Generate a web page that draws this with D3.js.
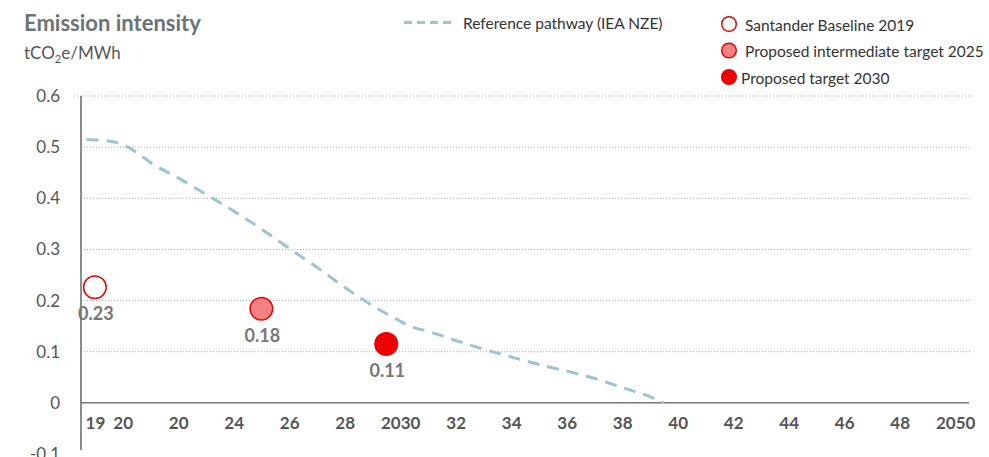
<!DOCTYPE html>
<html>
<head>
<meta charset="utf-8">
<script src="https://cdn.jsdelivr.net/npm/d3@7"></script>
<style>
  body { margin: 0; background: #fff; }
  text { font-family: Lato, "Open Sans", sans-serif; }
</style>
</head>
<body>
<svg id="chart" width="989" height="457"></svg>
<script>
// tick positions and the labels printed under them (the source prints "20" for 2022)
var yearTicks = [2019, 2020, 2022, 2024, 2026, 2028, 2030, 2032, 2034, 2036, 2038, 2040, 2042, 2044, 2046, 2048, 2050];
var yearTickLabels = ["19", "20", "20", "24", "26", "28", "2030", "32", "34", "36", "38", "40", "42", "44", "46", "48", "2050"];
var valueTicks = [-0.1, 0, 0.1, 0.2, 0.3, 0.4, 0.5, 0.6];
var gridValues = [0.1, 0.2, 0.3, 0.4, 0.5, 0.6];

// IEA NZE reference pathway
var pathwayYears  = [2018.7, 2019.5, 2020, 2020.5, 2021, 2022, 2023, 2024, 2025, 2026, 2027, 2028, 2029, 2030, 2030.3, 2031, 2032, 2033, 2034, 2035, 2036, 2037, 2038, 2039, 2039.5];
var pathwayValues = [0.515, 0.512, 0.505, 0.49, 0.47, 0.44, 0.408, 0.375, 0.34, 0.302, 0.265, 0.226, 0.19, 0.16, 0.151, 0.14, 0.122, 0.105, 0.09, 0.075, 0.062, 0.048, 0.03, 0.012, 0];

// Santander points
var targetNames  = ["Santander Baseline 2019", "Proposed intermediate target 2025", "Proposed target 2030"];
var targetYears  = [2019, 2025, 2029.5];
var targetValues = [0.226, 0.184, 0.115];
var targetLabels = ["0.23", "0.18", "0.11"];
var targetFills  = ["#ffffff", "#f48283", "#ec0000"];

var red = "#ec0000";
var pathBlue = "#9dc4d6";

var svg = d3.select("#chart");

var x = d3.scaleLinear().domain([2018.5, 2050.5]).range([81, 969]);
var y = d3.scaleLinear().domain([-0.1, 0.6]).range([454, 96]);

// titles
svg.append("text")
    .attr("x", 24).attr("y", 31)
    .attr("font-size", 22).attr("font-weight", 700)
    .attr("fill", "#6b7474")
    .text("Emission intensity");

var sub = svg.append("text")
    .attr("x", 24).attr("y", 59)
    .attr("font-size", 17)
    .attr("fill", "#555");
sub.append("tspan").text("tCO");
sub.append("tspan").attr("font-size", 11).attr("dy", 4).text("2");
sub.append("tspan").attr("dy", -4).text("e/MWh");

// gridlines
svg.append("g")
    .selectAll("line")
    .data(gridValues)
    .enter()
    .append("line")
    .attr("x1", function(d) { return d === 0.6 ? x.range()[0] - 7 : x.range()[0]; })
    .attr("x2", x.range()[1] + 3)
    .attr("y1", function(d) { return y(d); })
    .attr("y2", function(d) { return y(d); })
    .attr("stroke", "#aaa")
    .attr("stroke-width", 1)
    .attr("stroke-dasharray", "1,2");

// y axis
var yAxis = d3.axisLeft(y)
    .tickValues(valueTicks)
    .tickSize(0)
    .tickPadding(21)
    .tickFormat(function(d) { return String(d); });

var gy = svg.append("g")
    .attr("transform", "translate(" + x.range()[0] + ",0)")
    .call(yAxis);
gy.select(".domain").remove();
gy.selectAll("text")
    .attr("font-size", 17)
    .attr("fill", "#555")
    .style("font-family", "Lato, sans-serif");

svg.append("line")
    .attr("x1", x.range()[0]).attr("x2", x.range()[0])
    .attr("y1", y(0.6)).attr("y2", y(-0.1) - 4)
    .attr("stroke", "#666").attr("stroke-width", 1.5);

// zero line + x axis
svg.append("line")
    .attr("x1", x.range()[0]).attr("x2", x.range()[1])
    .attr("y1", y(0)).attr("y2", y(0))
    .attr("stroke", "#777").attr("stroke-width", 1.5);

var xAxis = d3.axisBottom(x)
    .tickValues(yearTicks)
    .tickSize(0)
    .tickPadding(14)
    .tickFormat(function(d, i) { return yearTickLabels[i]; });

var gx = svg.append("g")
    .attr("transform", "translate(0," + y(0) + ")")
    .call(xAxis);
gx.select(".domain").remove();
gx.selectAll("text")
    .attr("font-size", 17)
    .attr("font-weight", 700)
    .attr("fill", "#555")
    .style("font-family", "Lato, sans-serif");

// reference pathway
var valueline = d3.line()
    .x(function(d) { return x(d[0]); })
    .y(function(d) { return y(d[1]); })
    .curve(d3.curveMonotoneX);

svg.append("path")
    .attr("d", valueline(d3.zip(pathwayYears, pathwayValues)))
    .attr("fill", "none")
    .attr("stroke", pathBlue)
    .attr("stroke-width", 3)
    .attr("stroke-dasharray", "12,8");

// points + value labels
var points = svg.append("g")
    .selectAll("g")
    .data(targetYears)
    .enter()
    .append("g");

points.append("circle")
    .attr("cx", function(d) { return x(d); })
    .attr("cy", function(d, i) { return y(targetValues[i]); })
    .attr("r", 11.3)
    .attr("fill", function(d, i) { return targetFills[i]; })
    .attr("stroke", red)
    .attr("stroke-width", 1.5);

points.append("text")
    .attr("x", function(d) { return x(d) + 1; })
    .attr("y", function(d, i) { return y(targetValues[i]) + 33; })
    .attr("text-anchor", "middle")
    .attr("font-size", 18)
    .attr("font-weight", 700)
    .attr("fill", "#777")
    .text(function(d, i) { return targetLabels[i]; });

// legend
svg.append("line")
    .attr("x1", 404).attr("x2", 452)
    .attr("y1", 22.5).attr("y2", 22.5)
    .attr("stroke", pathBlue)
    .attr("stroke-width", 3)
    .attr("stroke-dasharray", "8,5");
svg.append("text")
    .attr("x", 463).attr("y", 29)
    .attr("font-size", 15.5)
    .attr("fill", "#333")
    .text("Reference pathway (IEA NZE)");

var legendY = [24, 50.5, 77];
var legendTextX = [745, 745, 741];
var leg = svg.append("g")
    .selectAll("g")
    .data(targetNames)
    .enter()
    .append("g");
leg.append("circle")
    .attr("cx", 729)
    .attr("cy", function(d, i) { return legendY[i]; })
    .attr("r", 7.3)
    .attr("fill", function(d, i) { return targetFills[i]; })
    .attr("stroke", red)
    .attr("stroke-width", 1.5);
leg.append("text")
    .attr("x", function(d, i) { return legendTextX[i]; })
    .attr("y", function(d, i) { return legendY[i] + 6.5; })
    .attr("font-size", 15.5)
    .attr("fill", "#333")
    .text(function(d) { return d; });
</script>
</body>
</html>
